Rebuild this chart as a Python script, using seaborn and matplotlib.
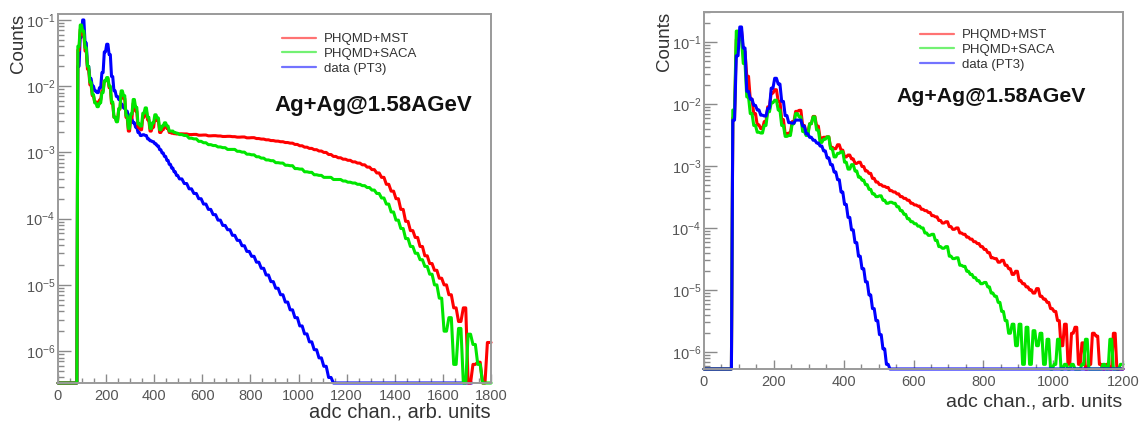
import numpy as np
import pandas as pd
import matplotlib
matplotlib.use("Agg")
import matplotlib.pyplot as plt
import seaborn as sns
from matplotlib.lines import Line2D
from matplotlib.ticker import LogLocator, MultipleLocator, NullFormatter, LogFormatterMathtext

sns.set_theme(style="white")
plt.rcParams["font.family"] = ["Liberation Sans", "DejaVu Sans"]
plt.rcParams["mathtext.default"] = "regular"

# ---------------- data ----------------
series_labels = ["PHQMD+MST", "PHQMD+SACA", "data (PT3)"]
title_text = "Ag+Ag@1.58AGeV"
x_label = "adc chan., arb. units"
y_label = "Counts"
left_xticks = [0, 200, 400, 600, 800, 1000, 1200, 1400, 1600, 1800]
right_xticks = [0, 200, 400, 600, 800, 1000, 1200]

# left panel: bins 0-80, 80..500 (width 10), 500..1800 (width 20)
left_edges = np.array([0] + list(range(80, 500, 10)) + list(range(500, 1801, 20)))

left_mst = [
    3.5e-2, 7.2e-2, 6.0e-2, 3.4e-2, 1.8e-2, 1.05e-2, 7.2e-3, 5.8e-3, 5.6e-3, 6.2e-3,
    8.5e-3, 1.2e-2, 1.3e-2, 9.5e-3, 5.5e-3, 3.4e-3, 3.0e-3, 4.5e-3, 7.8e-3, 6.5e-3,
    3.4e-3, 2.1e-3, 3.3e-3, 5.5e-3, 4.2e-3, 2.4e-3, 2.2e-3, 3.4e-3, 4.2e-3, 3.1e-3,
    2.1e-3, 2.4e-3, 3.3e-3, 3.0e-3, 2.0e-3, 2.2e-3, 2.6e-3, 2.3e-3, 2.0e-3, 1.95e-3,
    1.92e-3, 1.9e-3,
    1.91e-3, 1.90e-3, 1.86e-3, 1.87e-3, 1.82e-3, 1.83e-3, 1.78e-3, 1.79e-3, 1.77e-3, 1.74e-3,
    1.75e-3, 1.73e-3, 1.70e-3, 1.71e-3, 1.66e-3, 1.67e-3, 1.62e-3, 1.59e-3, 1.55e-3, 1.51e-3,
    1.48e-3, 1.45e-3, 1.41e-3, 1.38e-3, 1.32e-3, 1.26e-3, 1.20e-3, 1.15e-3, 1.10e-3, 1.05e-3,
    1.00e-3, 9.3e-4, 8.7e-4, 8.3e-4, 7.9e-4, 7.6e-4, 7.2e-4, 6.9e-4, 6.5e-4, 6.0e-4,
    5.5e-4, 4.9e-4, 4.2e-4, 3.3e-4, 2.6e-4, 2.0e-4, 1.38e-4, 9.1e-5, 6.6e-5, 5.2e-5,
    3.8e-5, 2.75e-5, 2.1e-5, 1.66e-5, 1.26e-5, 1.0e-5, 7.1e-6, 4.5e-6, 2.8e-6, 4.5e-6,
    0, 6.3e-7, 6.8e-7, 0, 1.35e-6,
]
left_saca = [
    4.0e-2, 8.4e-2, 6.8e-2, 3.8e-2, 2.0e-2, 1.15e-2, 7.5e-3, 5.6e-3, 4.9e-3, 5.6e-3,
    8.0e-3, 1.2e-2, 1.35e-2, 1.0e-2, 5.8e-3, 3.4e-3, 2.9e-3, 4.6e-3, 8.5e-3, 7.2e-3,
    3.6e-3, 2.3e-3, 3.8e-3, 6.3e-3, 4.8e-3, 2.7e-3, 2.5e-3, 3.9e-3, 4.7e-3, 3.4e-3,
    2.3e-3, 2.8e-3, 3.7e-3, 3.3e-3, 2.2e-3, 2.5e-3, 2.8e-3, 2.5e-3, 2.1e-3, 2.1e-3,
    2.0e-3, 1.95e-3,
    1.86e-3, 1.80e-3, 1.64e-3, 1.60e-3, 1.47e-3, 1.40e-3, 1.31e-3, 1.27e-3, 1.21e-3, 1.18e-3,
    1.11e-3, 1.11e-3, 1.04e-3, 1.01e-3, 9.4e-4, 9.2e-4, 8.6e-4, 8.2e-4, 7.7e-4, 7.5e-4,
    7.0e-4, 6.9e-4, 6.4e-4, 6.3e-4, 5.7e-4, 5.6e-4, 5.1e-4, 5.0e-4, 4.6e-4, 4.5e-4,
    4.2e-4, 4.2e-4, 3.9e-4, 3.9e-4, 3.7e-4, 3.55e-4, 3.45e-4, 3.3e-4, 3.15e-4, 2.95e-4,
    2.7e-4, 2.4e-4, 2.05e-4, 1.66e-4, 1.26e-4, 9.5e-5, 7.1e-5, 5.0e-5, 3.8e-5, 3.0e-5,
    2.4e-5, 1.9e-5, 1.45e-5, 1.0e-5, 6.3e-6, 2.0e-6, 3.2e-6, 6.3e-7, 2.2e-6, 0,
    1.8e-6, 1.26e-6, 6.3e-7, 0, 0,
]
left_data = [
    2.0e-2, 5.5e-2, 1.0e-1, 4.5e-2, 2.0e-2, 1.3e-2, 1.0e-2, 8.5e-3, 8.0e-3, 9.5e-3,
    1.6e-2, 3.3e-2, 4.3e-2, 3.0e-2, 1.4e-2, 8.5e-3, 7.0e-3, 6.3e-3, 5.3e-3, 4.7e-3,
    4.2e-3, 3.6e-3, 3.2e-3, 2.8e-3, 2.4e-3, 2.0e-3, 1.8e-3, 1.85e-3, 1.8e-3, 1.6e-3,
    1.5e-3, 1.45e-3, 1.35e-3, 1.25e-3, 1.1e-3, 9.8e-4, 8.7e-4, 7.6e-4, 6.6e-4, 5.8e-4,
    5.1e-4, 4.5e-4,
    3.98e-4, 3.39e-4, 2.82e-4, 2.40e-4, 2.0e-4, 1.66e-4, 1.38e-4, 1.15e-4, 9.5e-5, 7.9e-5,
    6.8e-5, 5.6e-5, 4.7e-5, 3.9e-5, 3.2e-5, 2.7e-5, 2.2e-5, 1.78e-5, 1.41e-5, 1.12e-5,
    8.9e-6, 7.1e-6, 5.5e-6, 4.2e-6, 3.2e-6, 2.4e-6, 1.82e-6, 1.38e-6, 1.05e-6, 7.9e-7,
    5.9e-7, 4.0e-7,
    0, 0, 0, 0, 0, 0, 0, 0, 0, 0,
    0, 0, 0, 0, 0, 0, 0, 0, 0, 0,
    0, 0, 0, 0, 0, 0, 0, 0, 0,
]

# right panel: bins 0-80, 80..1200 (width 10)
right_edges = np.array([0] + list(range(80, 1201, 10)))

right_mst = [
    6.0e-3, 1.1e-1, 1.5e-1, 7.0e-2, 2.8e-2, 1.2e-2, 7.0e-3, 4.6e-3, 4.0e-3, 5.2e-3,
    9.0e-3, 1.5e-2, 1.7e-2, 1.1e-2, 5.6e-3, 3.3e-3, 3.4e-3, 5.2e-3, 7.6e-3, 7.9e-3,
    4.5e-3, 3.4e-3, 4.8e-3, 6.3e-3, 4.4e-3, 2.8e-3, 2.9e-3, 2.95e-3, 2.0e-3, 1.9e-3,
    2.2e-3, 1.8e-3, 1.4e-3, 1.5e-3, 1.3e-3, 1.1e-3, 1.15e-3, 9.8e-4, 8.3e-4, 7.6e-4,
    6.3e-4, 5.5e-4,
    5.0e-4, 4.7e-4, 4.5e-4, 4.0e-4, 3.8e-4, 3.55e-4, 3.2e-4, 3.0e-4, 2.8e-4, 2.5e-4,
    2.35e-4, 2.25e-4, 2.0e-4, 1.9e-4, 1.78e-4, 1.58e-4, 1.51e-4, 1.32e-4, 1.2e-4, 1.26e-4,
    1.05e-4, 9.5e-5, 1.0e-4, 8.3e-5, 7.9e-5, 7.1e-5, 6.6e-5, 6.0e-5, 5.6e-5, 5.0e-5,
    4.5e-5, 4.0e-5, 3.3e-5, 3.2e-5, 2.8e-5, 3.0e-5, 2.5e-5, 2.2e-5, 1.78e-5, 2.0e-5,
    1.41e-5, 1.26e-5, 1.12e-5, 1.0e-5, 8.9e-6, 1.05e-5, 7.9e-6, 7.1e-6, 6.3e-6, 5.0e-6,
    4.5e-6, 3.2e-6, 1.26e-6, 2.8e-6, 6.3e-7, 2.0e-6, 2.5e-6, 6.3e-7, 1.4e-6, 0,
    6.3e-7, 2.0e-6, 1.8e-6, 6.3e-7, 0, 6.3e-7, 0, 2.0e-6, 0, 0,
]
right_saca = [
    8.0e-3, 1.5e-1, 1.1e-1, 4.5e-2, 1.3e-2, 7.0e-3, 4.5e-3, 3.5e-3, 3.4e-3, 4.5e-3,
    7.5e-3, 1.05e-2, 1.15e-2, 8.0e-3, 4.5e-3, 3.0e-3, 3.1e-3, 4.8e-3, 7.0e-3, 6.2e-3,
    3.6e-3, 3.1e-3, 4.8e-3, 6.2e-3, 3.8e-3, 2.4e-3, 2.7e-3, 2.95e-3, 1.9e-3, 1.4e-3,
    1.6e-3, 1.7e-3, 1.15e-3, 8.9e-4, 1.05e-3, 8.3e-4, 6.6e-4, 5.9e-4,
    5.0e-4, 4.2e-4, 3.55e-4, 3.2e-4, 3.3e-4, 2.8e-4, 2.5e-4, 2.6e-4, 2.5e-4, 2.2e-4,
    1.9e-4, 1.66e-4, 1.41e-4, 1.26e-4, 1.17e-4, 1.07e-4, 1.0e-4, 8.3e-5, 7.6e-5, 7.9e-5,
    6.3e-5, 5.0e-5, 4.7e-5, 5.0e-5, 3.5e-5, 3.2e-5, 3.3e-5, 2.5e-5, 2.4e-5, 2.0e-5,
    1.78e-5, 1.58e-5, 1.41e-5, 1.26e-5, 1.32e-5, 1.12e-5, 8.9e-6, 7.9e-6, 6.3e-6, 4.5e-6,
    3.2e-6, 2.0e-6, 2.8e-6, 1.26e-6, 2.8e-6, 6.3e-7, 2.5e-6, 6.3e-7, 2.2e-6, 1.26e-6,
    2.0e-6, 6.3e-7, 1.6e-6, 0, 6.3e-7, 1.6e-6, 0, 6.3e-7, 0, 6.3e-7,
    0, 0, 6.3e-7, 1.6e-6, 0, 0, 0, 0, 6.3e-7, 0,
    1.6e-6, 0, 0, 6.3e-7,
]
right_data = [
    5.5e-3, 6.0e-2, 1.75e-1, 8.0e-2, 1.6e-2, 1.2e-2, 9.5e-3, 8.0e-3, 6.6e-3, 6.4e-3,
    8.5e-3, 1.8e-2, 2.6e-2, 2.1e-2, 1.1e-2, 6.5e-3, 5.0e-3, 4.9e-3, 5.5e-3, 5.5e-3,
    4.4e-3, 3.3e-3, 2.9e-3, 2.6e-3, 2.35e-3, 2.1e-3, 1.75e-3, 1.35e-3, 1.05e-3, 8.0e-4,
    6.0e-4, 3.8e-4, 2.4e-4, 1.48e-4, 9.3e-5, 5.8e-5, 3.5e-5, 2.2e-5, 1.35e-5, 8.3e-6,
    5.0e-6, 3.2e-6, 1.9e-6, 1.12e-6, 6.3e-7,
    0, 0, 0, 0, 0, 0, 0, 0, 0, 0,
    0, 0, 0, 0, 0, 0, 0, 0, 0, 0,
    0, 0, 0, 0, 0, 0, 0, 0, 0, 0,
    0, 0, 0, 0, 0, 0, 0, 0, 0, 0,
    0, 0, 0, 0, 0, 0, 0, 0, 0, 0,
    0, 0, 0, 0, 0, 0, 0, 0, 0, 0,
    0, 0, 0, 0, 0, 0, 0,
]

# ---------------- style ----------------
C_RED, C_GREEN, C_BLUE = "#ff0000", "#00e600", "#0000ff"
FRAME = "#9a9a9a"
TICKC = "#8a8a8a"
LABC = "#555555"

fig = plt.figure(figsize=(11.39, 4.23), dpi=100)
fig.patch.set_facecolor("white")


def draw_hist(ax, edges, vals, color, ymin):
    """Histogram outline: each bin is a flat top joined to its neighbours
    by short slanted transitions (looks like a finely binned ROOT histogram)."""
    v = np.asarray([0.0] + list(vals), dtype=float)
    v = np.where(v > 0, v, ymin)
    e = np.asarray(edges[: len(v) + 1], dtype=float)
    w = np.diff(e)
    ins = np.where(w > 20, 1.5, 0.25 * w)
    xs = np.column_stack([e[:-1] + ins, e[1:] - ins]).ravel()
    xs[0] = e[0]
    xs[-1] = e[-1]
    ys = np.repeat(v, 2)
    df = pd.DataFrame({"adc": xs, "counts": ys})
    sns.lineplot(data=df, x="adc", y="counts", ax=ax, color=color, lw=2.2,
                 estimator=None, sort=False, legend=False, clip_on=False)


def style_axes(ax, xmax, xticks, ylim):
    ax.set_yscale("log")
    ax.set_xlim(0, xmax)
    ax.set_ylim(*ylim)
    ax.set_xlabel("")
    ax.set_ylabel("")
    for s in ax.spines.values():
        s.set_color(FRAME)
        s.set_linewidth(1.4)
    ax.set_xticks(xticks)
    ax.xaxis.set_minor_locator(MultipleLocator(50))
    ax.yaxis.set_major_locator(LogLocator(base=10, numticks=12))
    ax.yaxis.set_major_formatter(LogFormatterMathtext())
    ax.yaxis.set_minor_locator(LogLocator(base=10, subs=np.arange(2, 10), numticks=12))
    ax.yaxis.set_minor_formatter(NullFormatter())
    ax.tick_params(axis="both", which="both", direction="in", colors=TICKC,
                   labelcolor=LABC, labelsize=10.5, width=1.0,
                   bottom=True, left=True, top=False, right=False)
    ax.tick_params(axis="y", which="major", length=9, pad=2)
    ax.tick_params(axis="y", which="minor", length=4.5)
    ax.tick_params(axis="x", which="major", length=6.5, pad=4)
    ax.tick_params(axis="x", which="minor", length=3.5)
    ax.set_facecolor("white")


# ---- left panel ----
axL = fig.add_axes([58 / 1139, 40 / 423, 433 / 1139, 369 / 423])
ylimL = (3.3e-7, 0.123)
draw_hist(axL, left_edges, left_data, C_BLUE, ylimL[0])
draw_hist(axL, left_edges, left_mst, C_RED, ylimL[0])
draw_hist(axL, left_edges, left_saca, C_GREEN, ylimL[0])
style_axes(axL, 1800, left_xticks, ylimL)

# ---- right panel ----
axR = fig.add_axes([704 / 1139, 54 / 423, 419 / 1139, 357 / 423])
ylimR = (5.3e-7, 0.305)
draw_hist(axR, right_edges, right_mst, C_RED, ylimR[0])
draw_hist(axR, right_edges, right_saca, C_GREEN, ylimR[0])
draw_hist(axR, right_edges, right_data, C_BLUE, ylimR[0])
style_axes(axR, 1200, right_xticks, ylimR)

# legends
handles = [Line2D([], [], color=c, lw=1.6, alpha=0.55) for c in (C_RED, C_GREEN, C_BLUE)]
for ax, anchor in ((axL, (282 / 1139, 1 - 33 / 423)), (axR, (920 / 1139, 1 - 29 / 423))):
    ax.legend(handles, series_labels, loc="upper left", bbox_to_anchor=anchor,
              bbox_transform=fig.transFigure, frameon=False, fontsize=9.5,
              borderpad=0, borderaxespad=0, handlelength=2.6, handletextpad=0.6,
              labelspacing=0.2, labelcolor="#333333")

# titles inside
fig.text(373 / 1139, 1 - 105 / 423, title_text, ha="center", va="center",
         fontsize=16, fontweight="bold", color="#111111")
fig.text(991 / 1139, 1 - 97 / 423, title_text, ha="center", va="center",
         fontsize=15.3, fontweight="bold", color="#111111")

# axis labels (ROOT style positions)
fig.text(18 / 1139, 1 - 14 / 423, y_label, rotation=90, ha="center", va="top",
         fontsize=13.5, color="#333333")
fig.text(665 / 1139, 1 - 12 / 423, y_label, rotation=90, ha="center", va="top",
         fontsize=13.5, color="#333333")
fig.text(491 / 1139, 1 - 412 / 423, x_label, ha="right", va="center",
         fontsize=14.5, color="#333333")
fig.text(1122 / 1139, 1 - 402 / 423, x_label, ha="right", va="center",
         fontsize=14, color="#333333")

fig.savefig("out.png", dpi=100, facecolor="white")
